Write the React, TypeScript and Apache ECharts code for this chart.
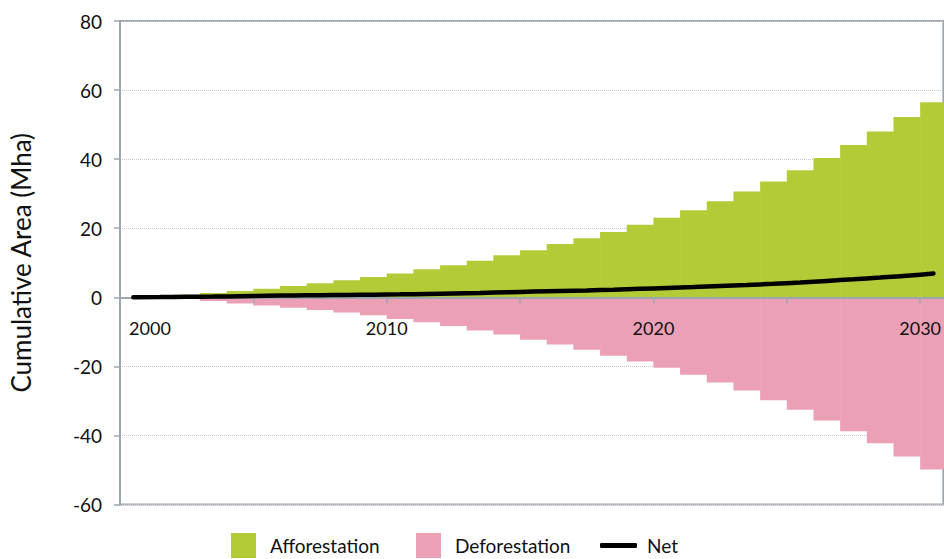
import React, { useEffect, useRef } from "react";
import * as echarts from "echarts";

const years = [
  2000, 2001, 2002, 2003, 2004, 2005, 2006, 2007, 2008, 2009, 2010,
  2011, 2012, 2013, 2014, 2015, 2016, 2017, 2018, 2019, 2020,
  2021, 2022, 2023, 2024, 2025, 2026, 2027, 2028, 2029, 2030,
];
const afforestation = [
  0, 0.3, 0.7, 1.25, 1.8, 2.5, 3.3, 4.1, 4.9, 5.9, 6.9,
  8.1, 9.3, 10.6, 12.2, 13.6, 15.4, 17.1, 18.9, 21.0, 23.0,
  25.2, 27.8, 30.6, 33.5, 36.8, 40.3, 44.1, 48.0, 52.2, 56.5,
];
const deforestation = [
  0, -0.2, -0.5, -1.1, -1.8, -2.4, -3.0, -3.7, -4.4, -5.2, -6.3,
  -7.2, -8.3, -9.6, -10.8, -12.3, -13.7, -15.2, -16.9, -18.6, -20.4,
  -22.4, -24.7, -27.0, -29.8, -32.6, -35.7, -38.8, -42.3, -46.1, -49.9,
];
const net = [
  0, 0.05, 0.12, 0.2, 0.33, 0.45, 0.52, 0.6, 0.67, 0.74, 0.85,
  0.98, 1.12, 1.27, 1.45, 1.65, 1.83, 2.0, 2.2, 2.45, 2.7,
  2.95, 3.25, 3.55, 3.9, 4.3, 4.75, 5.2, 5.7, 6.25, 6.9,
];
const xTickValues = [2000, 2005, 2010, 2015, 2020, 2025, 2030];
const xLabelValues = [2000, 2010, 2020, 2030];

const FONT = 'Lato, "Open Sans", sans-serif';
const AXIS_GREY = "#9ea6b0";
const GREEN = "#b3cb37";
const PINK = "#eba0b6";
const X_MIN = 2000;
const X_MAX = 2030.87;
const Y_MIN = -60;
const Y_MAX = 80;

const GRID_TOP = 21;
const GRID_BOTTOM = 54.5;
const CHART_H = 559;
// shift the x axis from the grid bottom up to y = 0
const plotH = CHART_H - GRID_TOP - GRID_BOTTOM;
const zeroOffset = -plotH * (0 - Y_MIN) / (Y_MAX - Y_MIN);

function stepBars(name: string, values: number[], color: string) {
  return {
    name,
    type: "custom",
    xAxisIndex: 0,
    yAxisIndex: 0,
    clip: true,
    z: 2,
    itemStyle: { color },
    encode: { x: 0, y: 1 },
    data: years.map((y, i) => [y, values[i]]),
    renderItem: (params: any, api: any) => {
      const yr = api.value(0);
      const v = api.value(1);
      const p0 = api.coord([yr, 0]);
      const p1 = api.coord([yr + 1, v]);
      return {
        type: "rect",
        shape: {
          x: p0[0],
          y: Math.min(p0[1], p1[1]),
          width: p1[0] - p0[0] + 0.5,
          height: Math.abs(p1[1] - p0[1]),
        },
        style: { fill: color },
      };
    },
  };
}

export default function App() {
  const ref = useRef<HTMLDivElement>(null);
  useEffect(() => {
    if (!ref.current) return;
    const chart = echarts.init(ref.current, undefined, { renderer: "svg" });
    const legendText = { fontFamily: FONT, fontSize: 19, color: "#111" };
    chart.setOption({
      animation: false,
      backgroundColor: "#ffffff",
      grid: {
        left: 119,
        right: -2,
        top: GRID_TOP,
        bottom: GRID_BOTTOM,
        containLabel: false,
        show: true,
        borderColor: AXIS_GREY,
        borderWidth: 2,
        backgroundColor: "transparent",
      },
      legend: [
        {
          data: [{ name: "Afforestation", icon: "rect" }],
          left: 231,
          top: 533,
          padding: 0,
          itemWidth: 25,
          itemHeight: 25,
          textStyle: { ...legendText, padding: [0, 0, 0, 9] },
          selectedMode: false,
        },
        {
          data: [{ name: "Deforestation", icon: "rect" }],
          left: 416,
          top: 533,
          padding: 0,
          itemWidth: 25,
          itemHeight: 25,
          textStyle: { ...legendText, padding: [0, 0, 0, 9] },
          selectedMode: false,
        },
        {
          data: [{ name: "Net", icon: "roundRect" }],
          left: 600,
          top: 536,
          padding: 0,
          itemWidth: 37,
          itemHeight: 5,
          textStyle: { ...legendText, padding: [0, 0, 0, 5] },
          selectedMode: false,
        },
      ],
      xAxis: {
        type: "value",
        min: X_MIN,
        max: X_MAX,
        position: "bottom",
        offset: zeroOffset,
        z: 3,
        axisLine: { show: true, onZero: false, lineStyle: { color: AXIS_GREY, width: 2 } },
        axisTick: {
          show: true,
          customValues: xTickValues,
          length: 6,
          inside: false,
          lineStyle: { color: AXIS_GREY, width: 1.5 },
        },
        axisLabel: {
          show: true,
          customValues: xLabelValues,
          margin: 22,
          fontFamily: FONT,
          fontSize: 18,
          color: "#111",
          formatter: (v: number) => (v === 2000 ? "{f|2000}" : String(v)),
          rich: {
            f: { fontFamily: FONT, fontSize: 18, color: "#111", padding: [0, 0, 0, 60] },
          },
        },
        splitLine: { show: false },
      },
      yAxis: {
        type: "value",
        min: Y_MIN,
        max: Y_MAX,
        interval: 20,
        name: "Cumulative Area (Mha)",
        nameLocation: "middle",
        nameGap: 86,
        nameTextStyle: { fontFamily: FONT, fontSize: 26, color: "#111" },
        axisLine: { show: true, onZero: false, lineStyle: { color: AXIS_GREY, width: 2 } },
        axisTick: { show: true, length: 6, lineStyle: { color: AXIS_GREY, width: 1.5 } },
        axisLabel: { margin: 18, fontFamily: FONT, fontSize: 19, color: "#111" },
        splitLine: { show: true, lineStyle: { type: "dotted", color: "#c8c8c8", width: 1 } },
      },
      series: [
        stepBars("Afforestation", afforestation, GREEN),
        stepBars("Deforestation", deforestation, PINK),
        {
          name: "Net",
          type: "line",
          xAxisIndex: 0,
          yAxisIndex: 0,
          z: 5,
          smooth: true,
          showSymbol: false,
          symbol: "none",
          color: "#000",
          itemStyle: { color: "#000" },
          lineStyle: { color: "#000", width: 4.5, cap: "round" },
          data: years.map((y, i) => [y + 0.5, net[i]]),
        },
      ],
    });
    return () => chart.dispose();
  }, []);
  return (
    <div
      ref={ref}
      style={{ position: "fixed", left: 0, top: 0, width: 944, height: 559 }}
    />
  );
}
